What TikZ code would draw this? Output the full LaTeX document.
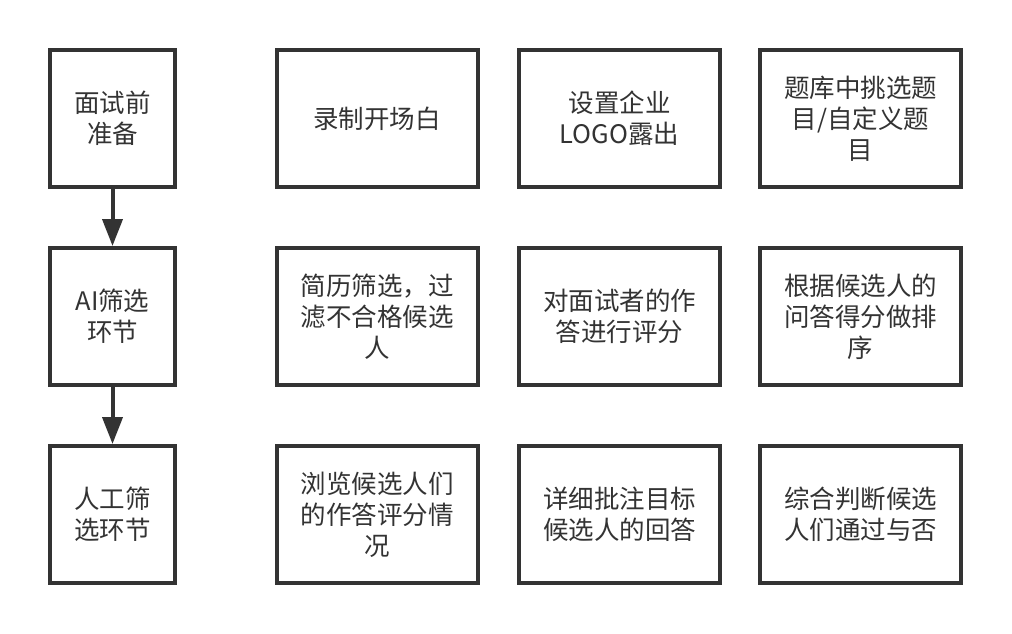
\documentclass[tikz,border=0pt]{standalone}
\usepackage{fontspec}
\newfontfamily\cjk{Noto Sans CJK SC}
\usetikzlibrary{arrows.meta}
\definecolor{ink}{HTML}{333333}
\tikzset{
  box/.style={draw=ink, line width=4pt, fill=white, minimum height=137pt, inner sep=0pt,
    align=center, text=ink, font=\cjk\fontsize{25.5pt}{31pt}\selectfont},
  narrow/.style={box, minimum width=125pt},
  wide/.style={box, minimum width=201pt},
  flow/.style={draw=ink, line width=4pt, -{Triangle[width=20pt,length=27pt]}}
}
\begin{document}
\begin{tikzpicture}[x=1pt,y=-1pt]
\useasboundingbox (0,0) rectangle (1012,634);
% column 1
\node[narrow] (p1) at (112.5,118.5) {面试前\\准备};
\node[narrow] (p2) at (112.5,316.5) {AI筛选\\环节};
\node[narrow] (p3) at (112.5,514.5) {人工筛\\选环节};
% row 1
\node[wide] (a1) at (377,118.5) {录制开场白};
\node[wide] (a2) at (619.5,118.5) {设置企业\\LOGO露出};
\node[wide] (a3) at (860.5,118.5) {题库中挑选题\\目/自定义题\\目};
% row 2
\node[wide] (b1) at (377,316.5) {简历筛选，过\\滤不合格候选\\人};
\node[wide] (b2) at (619.5,316.5) {对面试者的作\\答进行评分};
\node[wide] (b3) at (860.5,316.5) {根据候选人的\\问答得分做排\\序};
% row 3
\node[wide] (c1) at (377,514.5) {浏览候选人们\\的作答评分情\\况};
\node[wide] (c2) at (619.5,514.5) {详细批注目标\\候选人的回答};
\node[wide] (c3) at (860.5,514.5) {综合判断候选\\人们通过与否};
% arrows
\draw[flow] (p1.south) -- (p2.north);
\draw[flow] (p2.south) -- (p3.north);
\end{tikzpicture}
\end{document}
